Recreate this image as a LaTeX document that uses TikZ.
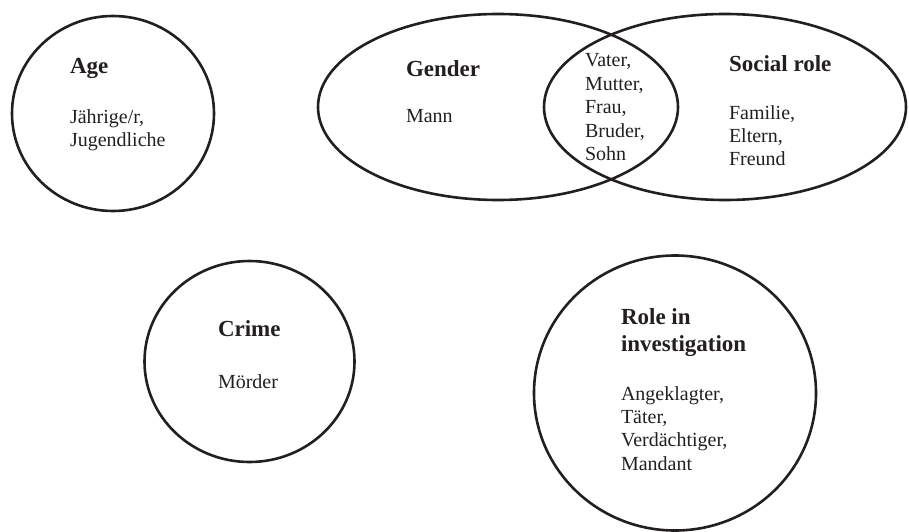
\documentclass[tikz,border=0pt]{standalone}
\usepackage{fontspec}
\setmainfont{Liberation Serif}
\usetikzlibrary{shapes.geometric}
\definecolor{ink}{HTML}{231F20}
\tikzset{
  setcircle/.style={draw=ink, line width=2.6pt, ellipse, inner sep=0pt, outer sep=0pt},
  headtext/.style={anchor=base west, inner sep=0pt, outer sep=0pt, align=left, text=ink,
    font=\fontsize{23}{27.7}\selectfont\bfseries},
  bodytext/.style={anchor=base west, inner sep=0pt, outer sep=0pt, align=left, text=ink,
    font=\fontsize{20}{23.4}\selectfont}
}
\begin{document}
\begin{tikzpicture}[x=1pt, y=-1pt]
\useasboundingbox (0,0) rectangle (909,532);
% sets
\node[setcircle, minimum width=202pt, minimum height=195pt] (age) at (113,113.5) {};
\node[setcircle, minimum width=360pt, minimum height=186pt] (gender) at (498,107) {};
\node[setcircle, minimum width=362pt, minimum height=186pt] (social) at (725,107) {};
\node[setcircle, minimum width=210pt, minimum height=201pt] (crime) at (249.5,361.5) {};
\node[setcircle, minimum width=282pt, minimum height=275pt] (role) at (675,393) {};
% labels (anchor = baseline of the last line)
\node[headtext] (agehead) at (70,74) {Age};
\node[bodytext] (agebody) at (70,146.7) {Jährige/r,\\Jugendliche};
\node[headtext] (genderhead) at (406,77) {Gender};
\node[bodytext] (genderbody) at (406,122.7) {Mann};
\node[bodytext] (bothbody) at (585,160.5) {Vater,\\Mutter,\\Frau,\\Bruder,\\Sohn};
\node[headtext] (socialhead) at (729,71.7) {Social role};
\node[bodytext] (socialbody) at (729,165.8) {Familie,\\Eltern,\\Freund};
\node[headtext] (crimehead) at (218,336) {Crime};
\node[bodytext] (crimebody) at (218,388) {Mörder};
\node[headtext] (rolehead) at (621,351.7) {Role in\\investigation};
\node[bodytext] (rolebody) at (621,470.2) {Angeklagter,\\Täter,\\Verdächtiger,\\Mandant};
\end{tikzpicture}
\end{document}
